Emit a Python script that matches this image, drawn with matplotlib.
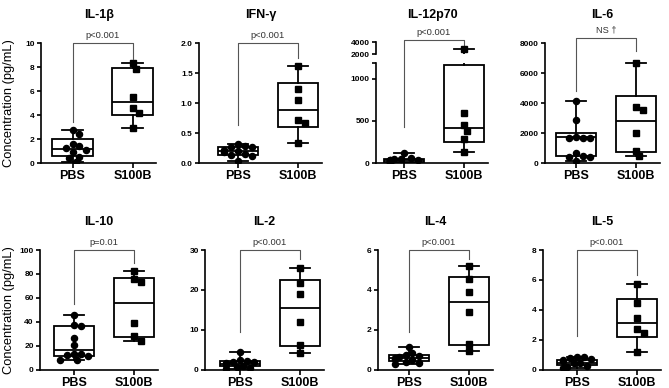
import numpy as np
import matplotlib
matplotlib.use("Agg")
import matplotlib.pyplot as plt

plt.rcParams['font.family'] = ['Liberation Sans', 'DejaVu Sans']

# ── data ─────────────────────────────────────────────────────────────────────
titles = ["IL-1β", "IFN-γ", "IL-12p70", "IL-6", "IL-10", "IL-2", "IL-4", "IL-5"]
groups = ["PBS", "S100B"]
p_texts = ["p<0.001", "p<0.001", "p<0.001", "NS †", "p=0.01", "p<0.001", "p<0.001", "p<0.001"]

il1b_pbs = [2.75, 2.4, 1.6, 1.45, 1.25, 1.1, 0.9, 0.5, 0.45, 0.05]
il1b_s100b = [8.3, 7.8, 5.5, 4.6, 4.2, 2.95]
il1b_pbs_box = [0.05, 0.55, 1.2, 2.0, 2.75]      # min, q1, median, q3, max
il1b_s100b_box = [2.95, 4.0, 5.1, 7.9, 8.3]

ifng_pbs = [0.32, 0.28, 0.27, 0.26, 0.22, 0.2, 0.19, 0.15, 0.13, 0.12, 0.03]
ifng_s100b = [1.62, 1.24, 1.05, 0.72, 0.67, 0.33]
ifng_pbs_box = [0.03, 0.14, 0.2, 0.26, 0.32]
ifng_s100b_box = [0.33, 0.6, 0.89, 1.33, 1.62]

il12_pbs = [120, 60, 50, 45, 40, 35, 30, 20, 15, 10, 5]
il12_s100b = [2900, 600, 450, 380, 280, 130]
il12_pbs_box = [5, 15, 30, 50, 120]
il12_s100b_box = [130, 245, 420, 1160, 2900]

il6_pbs = [4150, 2850, 1750, 1700, 1700, 1650, 700, 450, 400, 400, 150]
il6_s100b = [6700, 3750, 3550, 2000, 800, 450]
il6_pbs_box = [150, 500, 1720, 1980, 4150]
il6_s100b_box = [450, 750, 2780, 4450, 6700]

il10_pbs = [46, 37.5, 37, 26.5, 20.5, 13.5, 13, 12.5, 12, 8.5, 8.2]
il10_s100b = [82.5, 75.5, 73.5, 39, 28, 24]
il10_pbs_box = [8.2, 11.5, 17, 37, 46]
il10_s100b_box = [24, 27.5, 56, 77, 82.5]

il2_pbs = [4.5, 2.4, 2.2, 2.1, 2.0, 1.8, 1.2, 0.9, 0.7, 0.5, 0.3]
il2_s100b = [25.5, 21.8, 19, 12, 6.3, 4.3]
il2_pbs_box = [0.3, 1.0, 1.5, 2.2, 4.5]
il2_s100b_box = [4.3, 6.0, 15.5, 22.6, 25.5]

il4_pbs = [1.15, 0.85, 0.75, 0.7, 0.65, 0.6, 0.55, 0.5, 0.4, 0.35, 0.3]
il4_s100b = [5.2, 4.55, 3.9, 2.9, 1.3, 0.95]
il4_pbs_box = [0.3, 0.45, 0.6, 0.75, 1.15]
il4_s100b_box = [0.95, 1.25, 3.4, 4.65, 5.2]

il5_pbs = [0.9, 0.85, 0.8, 0.75, 0.7, 0.6, 0.5, 0.45, 0.3, 0.2, 0.15]
il5_s100b = [5.75, 4.45, 3.5, 2.75, 2.45, 1.2]
il5_pbs_box = [0.15, 0.35, 0.5, 0.7, 0.9]
il5_s100b_box = [1.2, 2.2, 3.15, 4.75, 5.75]

yticks = [[0, 2, 4, 6, 8, 10], [0.0, 0.5, 1.0, 1.5, 2.0], [0, 500, 1000],
          [0, 2000, 4000, 6000, 8000], [0, 20, 40, 60, 80, 100], [0, 10, 20, 30],
          [0, 2, 4, 6], [0, 2, 4, 6, 8]]
ytick_fmt = ["{:g}", "{:.1f}", "{:g}", "{:g}", "{:g}", "{:g}", "{:g}", "{:g}"]

# bracket: top, left leg end, right leg end (data units)
brackets = [(10, 3.4, 8.7), (2.0, 0.64, 1.75), (1462, 430, 1380), (8340, 4820, 7500),
            (100, 55, 89), (30, 9.5, 27.8), (6, 1.9, 5.55), (8, 2.3, 6.35)]

pbs_vals = [il1b_pbs, ifng_pbs, il12_pbs, il6_pbs, il10_pbs, il2_pbs, il4_pbs, il5_pbs]
s100b_vals = [il1b_s100b, ifng_s100b, il12_s100b, il6_s100b,
              il10_s100b, il2_s100b, il4_s100b, il5_s100b]
pbs_boxes = [il1b_pbs_box, ifng_pbs_box, il12_pbs_box, il6_pbs_box,
             il10_pbs_box, il2_pbs_box, il4_pbs_box, il5_pbs_box]
s100b_boxes = [il1b_s100b_box, ifng_s100b_box, il12_s100b_box, il6_s100b_box,
               il10_s100b_box, il2_s100b_box, il4_s100b_box, il5_s100b_box]

# ── layout (pixels) ──────────────────────────────────────────────────────────
W, H = 669, 388
PX_PER_UNIT = 60
XMAX = 2.4
axis_left = [41, 199, 376, 545, 40, 205, 378, 543]
pbs_px = [72.5, 238, 404, 576, 74, 240, 409, 577]
row_top = [43, 250]
row_bot = [163, 370]

fig = plt.figure(figsize=(W / 100, H / 100), dpi=100)


def add_axes_px(left, top, width, height):
    return fig.add_axes([left / W, 1 - (top + height) / H, width / W, height / H])


def style_axes(ax):
    for s in ["top", "right"]:
        ax.spines[s].set_visible(False)
    for s in ["left", "bottom"]:
        ax.spines[s].set_linewidth(1.2)
    ax.tick_params(axis="y", length=3, width=1.2, pad=1.5, labelsize=6)
    ax.tick_params(axis="x", length=3.5, width=1.2, pad=1.5, labelsize=9)
    for lab in ax.get_yticklabels():
        lab.set_fontweight("bold")


def draw_box(ax, box, pos):
    lo, q1, med, q3, hi = box
    stats = [dict(whislo=lo, q1=q1, med=med, q3=q3, whishi=hi, fliers=[])]
    ax.bxp(stats, positions=[pos], widths=0.67, capwidths=0.34, patch_artist=True,
           showfliers=False,
           boxprops=dict(facecolor="white", edgecolor="black", linewidth=1.3),
           medianprops=dict(color="black", linewidth=1.3),
           whiskerprops=dict(color="black", linewidth=1.3),
           capprops=dict(color="black", linewidth=1.3))


def swarm_offsets(ax, vals, pos, d=6.2):
    # simple beeswarm in pixel space, returns x data coords
    py = ax.transData.transform(np.column_stack([np.full(len(vals), pos), vals]))[:, 1]
    order = np.argsort(vals)[::-1]
    placed = []
    xs = np.zeros(len(vals))
    for i in order:
        for k in [0, 1, -1, 2, -2, 3, -3, 4, -4]:
            x = k * d * 0.55
            if all((x - px) ** 2 + (py[i] - qy) ** 2 >= d ** 2 for px, qy in placed):
                break
        placed.append((x, py[i]))
        xs[i] = pos + x / PX_PER_UNIT
    return xs


def draw_points(ax, vals, pos, marker):
    xs = swarm_offsets(ax, vals, pos)
    ax.plot(xs, vals, linestyle="none", marker=marker, markersize=4.4,
            color="black", zorder=5, clip_on=True)


for i in range(8):
    row = i // 4
    top, bot = row_top[row], row_bot[row]
    xmin = 1 - (pbs_px[i] - axis_left[i]) / PX_PER_UNIT
    width = (XMAX - xmin) * PX_PER_UNIT

    if titles[i] == "IL-12p70":
        # broken y axis: lower segment + small upper segment
        ax = add_axes_px(axis_left[i], 63.3, width, bot - 63.3)
        ax_top = add_axes_px(axis_left[i], 42.3, width, 12)
        ax.set_ylim(0, 1186)
        ax_top.set_ylim(2000, 4000)
        for a in (ax, ax_top):
            a.set_xlim(xmin, XMAX)
            a.patch.set_alpha(0)
        ax.set_yticks(yticks[i] + [1186])
        ax.set_yticklabels([ytick_fmt[i].format(t) for t in yticks[i]] + [""])
        ax_top.set_yticks([2000, 4000])
        ax_top.set_yticklabels(["2000", "4000"])
        style_axes(ax_top)
        ax_top.spines["bottom"].set_visible(False)
        ax_top.tick_params(axis="x", bottom=False, labelbottom=False)
        axes_list = [ax, ax_top]
    else:
        ax = add_axes_px(axis_left[i], top, width, bot - top)
        ax.set_xlim(xmin, XMAX)
        ax.set_ylim(0, yticks[i][-1])
        ax.set_yticks(yticks[i])
        ax.set_yticklabels([ytick_fmt[i].format(t) for t in yticks[i]])
        axes_list = [ax]

    ax.set_xticks([1, 2])
    ax.set_xticklabels(groups, fontweight="bold")
    style_axes(ax)

    for a in axes_list:
        draw_box(a, pbs_boxes[i], 1)
        draw_box(a, s100b_boxes[i], 2)
        draw_points(a, pbs_vals[i], 1, "o")
        draw_points(a, s100b_vals[i], 2, "s")
        a.set_xlim(xmin, XMAX)
        a.set_xticks([1, 2])
    ax.set_xticklabels(groups, fontweight="bold")

    # significance bracket
    btop, bl, br = brackets[i]
    ax.plot([1, 1, 2, 2], [bl, btop, btop, br], color="#555555", linewidth=0.8,
            clip_on=False, zorder=6)
    ax.annotate(p_texts[i], xy=(1.5, btop), xytext=(0, 2.5), textcoords="offset points",
                ha="center", va="bottom", fontsize=6.7, color="#333333",
                annotation_clip=False)

    # panel title
    cx = (axis_left[i] + width / 2) / W
    fig.text(cx, 1 - (top - 28) / H, titles[i], ha="center", va="center",
             fontsize=9, fontweight="bold")

for row in range(2):
    cy = 1 - (row_top[row] + row_bot[row]) / 2 / H
    fig.text(9 / W, cy, "Concentration (pg/mL)", rotation=90, ha="center", va="center",
             fontsize=9.3)

plt.savefig("out.png", dpi=100)
